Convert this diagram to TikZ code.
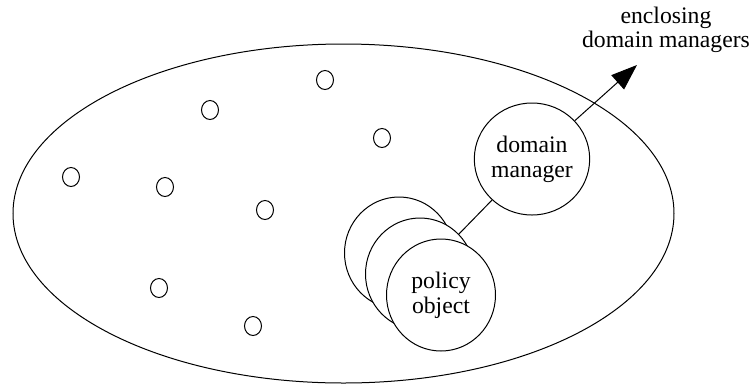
\documentclass[tikz,border=0pt]{standalone}
\usepackage{fontspec}
\setmainfont{Liberation Serif}
\usetikzlibrary{shapes.geometric,arrows.meta}
\begin{document}
\begin{tikzpicture}[x=1pt,y=-1pt,line width=1pt,
  dot/.style={draw,ellipse,minimum width=17pt,minimum height=19pt,inner sep=0pt},
  big/.style={draw,ellipse,fill=white,minimum width=109pt,minimum height=112pt,inner sep=0pt,align=center,
    font=\fontsize{23.7}{25}\selectfont},
  lbl/.style={align=center,font=\fontsize{23.7}{24}\selectfont,inner sep=0pt}]
\useasboundingbox (0,0) rectangle (756,384);
\node[draw,ellipse,minimum width=661pt,minimum height=339pt,inner sep=0pt] (dom) at (343.5,213.5) {};
\node[dot] (d1) at (325,80) {};
\node[dot] (d2) at (210,110) {};
\node[dot] (d3) at (382,138) {};
\node[dot] (d4) at (71,177) {};
\node[dot] (d5) at (165,187) {};
\node[dot] (d6) at (265,210) {};
\node[dot] (d7) at (159,288) {};
\node[dot] (d8) at (253,326) {};
\node[big] (p1) at (399,253) {};
\node[big] (p2) at (420,274) {};
\node[big] (p3) at (441,295) {policy\\object};
\node[big] (dm) at (532,159) {domain\\manager};
\draw (dm) -- (p2);
\coordinate (tip) at (637,65);
\draw[-{Triangle[length=26pt,width=19pt]}] (dm) -- (tip);
\node[lbl] (enc) at (666,30) {enclosing\\domain managers};
\end{tikzpicture}
\end{document}
